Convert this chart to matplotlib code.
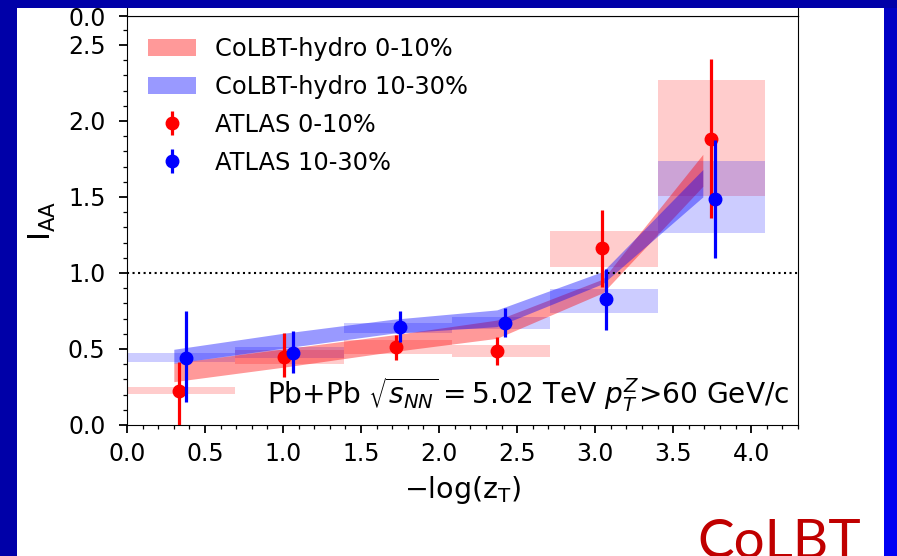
import numpy as np
import matplotlib
matplotlib.use("Agg")
import matplotlib.pyplot as plt
from matplotlib.patches import Rectangle, Patch
from matplotlib.colors import LinearSegmentedColormap

# ---------------- data ----------------
bin_edges = [0.0, 0.69, 1.39, 2.08, 2.71, 3.40, 4.09]

# ATLAS 0-10%
atlas_c_x = [0.336, 1.003, 1.727, 2.373, 3.047, 3.742]
atlas_c_y = [0.226, 0.445, 0.515, 0.487, 1.163, 1.882]
atlas_c_lo = [0.23, 0.127, 0.087, 0.092, 0.253, 0.522]
atlas_c_hi = [0.19, 0.158, 0.077, 0.094, 0.251, 0.528]
atlas_c_sys_lo = [0.202, 0.40, 0.47, 0.445, 1.038, 1.507]
atlas_c_sys_hi = [0.248, 0.49, 0.56, 0.526, 1.278, 2.27]

# ATLAS 10-30%
atlas_p_x = [0.379, 1.061, 1.752, 2.420, 3.068, 3.768]
atlas_p_y = [0.443, 0.476, 0.647, 0.673, 0.827, 1.487]
atlas_p_lo = [0.29, 0.136, 0.10, 0.096, 0.202, 0.387]
atlas_p_hi = [0.307, 0.142, 0.103, 0.095, 0.20, 0.39]
atlas_p_sys_lo = [0.416, 0.44, 0.605, 0.63, 0.735, 1.261]
atlas_p_sys_hi = [0.472, 0.51, 0.671, 0.71, 0.893, 1.739]

# CoLBT-hydro bands
band_x = [0.30, 1.00, 1.70, 2.37, 3.05, 3.69]
colbt_c_lo = [0.285, 0.38, 0.482, 0.57, 0.87, 1.57]
colbt_c_hi = [0.408, 0.50, 0.592, 0.69, 0.96, 1.78]
colbt_p_lo = [0.406, 0.505, 0.603, 0.647, 0.93, 1.50]
colbt_p_hi = [0.498, 0.603, 0.695, 0.757, 1.01, 1.68]

# ---------------- figure ----------------
W, H = 897, 556
fig = plt.figure(figsize=(W / 100, H / 100), dpi=100)
fig.patch.set_facecolor("white")

L, R, B, T = 127, 798, 425, 16
ax = fig.add_axes([L / W, (H - B) / H, (R - L) / W, (B - T) / H])
ax_top = fig.add_axes([L / W, (H - T) / H, (R - L) / W, 0.3])

tick_fs = 17

# systematic boxes
for i in range(6):
    x0, x1 = bin_edges[i], bin_edges[i + 1]
    ax.add_patch(Rectangle((x0, atlas_c_sys_lo[i]), x1 - x0,
                           atlas_c_sys_hi[i] - atlas_c_sys_lo[i],
                           facecolor="red", alpha=0.2, edgecolor="none", zorder=1))
    ax.add_patch(Rectangle((x0, atlas_p_sys_lo[i]), x1 - x0,
                           atlas_p_sys_hi[i] - atlas_p_sys_lo[i],
                           facecolor="blue", alpha=0.2, edgecolor="none", zorder=1))

# theory bands
ax.fill_between(band_x, colbt_c_lo, colbt_c_hi, color="red", alpha=0.4, lw=0, zorder=2)
ax.fill_between(band_x, colbt_p_lo, colbt_p_hi, color="blue", alpha=0.4, lw=0, zorder=2)

ax.axhline(1.0, color="k", ls=":", lw=1.5, zorder=3)

ax.errorbar(atlas_c_x, atlas_c_y, yerr=[atlas_c_lo, atlas_c_hi], fmt="o",
            color="red", ms=9, elinewidth=2.3, capsize=0, zorder=4)
ax.errorbar(atlas_p_x, atlas_p_y, yerr=[atlas_p_lo, atlas_p_hi], fmt="o",
            color="blue", ms=9, elinewidth=2.3, capsize=0, zorder=5)

ax.set_xlim(0, 4.3)
ax.set_ylim(0, 2.69)
ax.set_xticks([0.0, 0.5, 1.0, 1.5, 2.0, 2.5, 3.0, 3.5, 4.0])
ax.set_yticks([0.0, 0.5, 1.0, 1.5, 2.0, 2.5])
ax.set_xticks(np.arange(0, 4.31, 0.1), minor=True)
ax.set_yticks(np.arange(0, 2.69, 0.1), minor=True)
ax.tick_params(which="major", labelsize=tick_fs, length=6, width=1.3)
ax.tick_params(axis="x", which="major", pad=6)
ax.tick_params(axis="y", which="major", pad=9.5)
ax.tick_params(which="minor", length=3, width=0.9)
ax.set_xlabel(r"$-\log(\mathrm{z_T})$", fontsize=20.5, labelpad=6)
ax.set_ylabel(r"$\mathrm{I_{AA}}$", fontsize=22, labelpad=7)

ax.text(0.987, 0.052, r"Pb+Pb $\sqrt{s_{NN}}=5.02$ TeV $p_T^Z$>60 GeV/c",
        transform=ax.transAxes, ha="right", va="baseline", fontsize=20.2)

h1 = Patch(facecolor="red", alpha=0.4, edgecolor="none")
h2 = Patch(facecolor="blue", alpha=0.4, edgecolor="none")
h3 = ax.errorbar([], [], yerr=[], fmt="o", color="red", ms=9, elinewidth=2.3)
h4 = ax.errorbar([], [], yerr=[], fmt="o", color="blue", ms=9, elinewidth=2.3)
ax.legend([h1, h2, h3, h4],
          ["CoLBT-hydro 0-10%", "CoLBT-hydro 10-30%", "ATLAS 0-10%", "ATLAS 10-30%"],
          loc="upper left", fontsize=17.4, frameon=False, labelspacing=0.58,
          borderaxespad=0.45)

# upper (cropped) panel
ax_top.set_xlim(0, 4.3)
ax_top.set_ylim(0, 1)
ax_top.set_xticks([])
ax_top.set_yticks([0.0])
ax_top.set_yticklabels(["0.0"])
ax_top.tick_params(labelsize=tick_fs, length=6, width=1.3, pad=9.5)

# slide background strips
fig.patches.append(Rectangle((0, 0), 17 / W, 1, transform=fig.transFigure,
                             facecolor="#0000A8", edgecolor="none", zorder=10))
fig.patches.append(Rectangle((0, (H - 8) / H), 1, 8 / H, transform=fig.transFigure,
                             facecolor="#0000A8", edgecolor="none", zorder=10))
grad_ax = fig.add_axes([884 / W, 0, 13 / W, (H - 8) / H], zorder=10)
grad = np.linspace(0, 1, 100).reshape(-1, 1)
cmap = LinearSegmentedColormap.from_list("b", ["#0000C4", "#0000F5"])
grad_ax.imshow(grad, aspect="auto", cmap=cmap, origin="upper")
grad_ax.axis("off")

fig.text(779 / W, 1 - 558 / H, "CoLBT", color="#C00000", fontsize=39.5,
         family=["Lato", "DejaVu Sans"], ha="center", va="baseline")

fig.savefig("out.png", dpi=100)
